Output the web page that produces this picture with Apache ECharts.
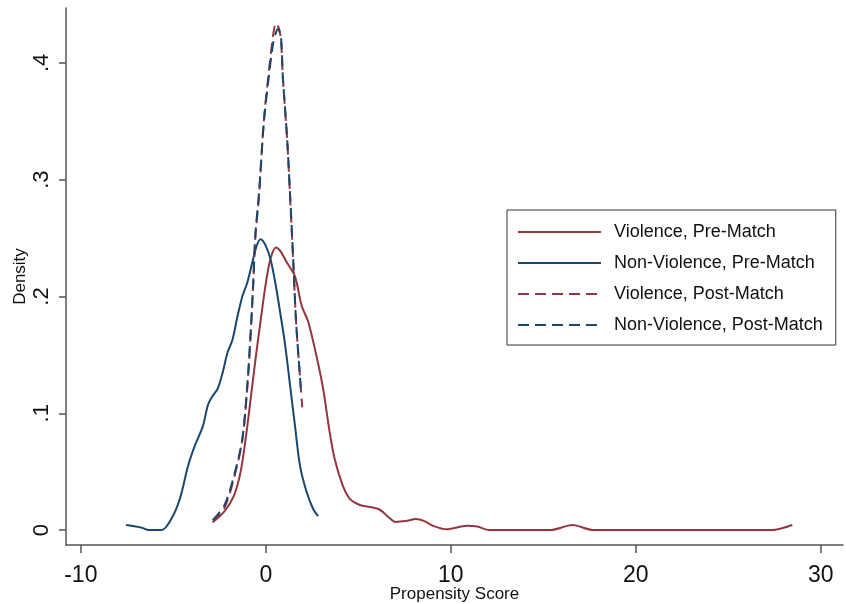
<!DOCTYPE html>
<html lang="en">
<head>
    <meta charset="UTF-8">
    <title>Propensity Score Density</title>
    <style>
        * {
            padding: 0;
            margin: 0;
        }

        #chart {
            width: 846px;
            height: 604px;
            background: #fff;
        }
    </style>
    <script src="https://cdn.jsdelivr.net/npm/echarts@6.0.0/dist/echarts.min.js"></script>
</head>
<body>
<div id="chart"></div>
<script>
    // [propensity score, density]
    const violencePre = [
        [-2.87, 0.0066], [-2.24, 0.016], [-1.71, 0.030], [-1.36, 0.050], [-1.09, 0.078],
        [-0.82, 0.112], [-0.56, 0.146], [-0.29, 0.178], [-0.02, 0.209], [0.25, 0.232],
        [0.55, 0.242], [0.78, 0.239], [1.14, 0.229], [1.58, 0.217], [1.94, 0.192],
        [2.3, 0.178], [2.74, 0.149], [3.1, 0.121], [3.45, 0.084], [3.72, 0.061],
        [4.16, 0.038], [4.52, 0.027], [4.87, 0.023], [5.17, 0.021], [6.09, 0.018],
        [6.64, 0.011], [7.01, 0.007], [7.56, 0.0077], [8.11, 0.0094], [8.57, 0.0077],
        [9.03, 0.0037], [9.77, 0.0006], [10.88, 0.0037], [11.43, 0.003], [12.07, 0],
        [15.39, 0], [16.58, 0.0043], [17.69, 0], [27.35, 0], [28.46, 0.0043]
    ];
    const nonViolencePre = [
        [-7.55, 0.0043], [-6.69, 0.002], [-6.34, 0], [-5.63, 0], [-5.09, 0.010],
        [-4.64, 0.027], [-4.2, 0.055], [-3.84, 0.072], [-3.4, 0.089], [-3.13, 0.107],
        [-2.87, 0.115], [-2.6, 0.121], [-2.33, 0.135], [-2.07, 0.152], [-1.8, 0.163],
        [-1.53, 0.183], [-1.27, 0.200], [-1.0, 0.212], [-0.73, 0.229], [-0.5, 0.243],
        [-0.29, 0.249], [-0.02, 0.244], [0.25, 0.232], [0.51, 0.212], [0.78, 0.186],
        [1.05, 0.158], [1.31, 0.124], [1.58, 0.089], [1.85, 0.055], [2.2, 0.033],
        [2.56, 0.018], [2.83, 0.012]
    ];
    const violencePost = [
        [-2.87, 0.007], [-2.24, 0.019], [-1.71, 0.045], [-1.27, 0.077], [-1.0, 0.122],
        [-0.82, 0.167], [-0.68, 0.210], [-0.56, 0.252], [-0.37, 0.285], [-0.11, 0.350],
        [0.16, 0.392], [0.39, 0.423], [0.55, 0.434], [0.70, 0.430], [0.82, 0.420],
        [0.92, 0.388], [1.05, 0.358], [1.17, 0.330], [1.31, 0.286], [1.49, 0.227],
        [1.63, 0.180], [1.76, 0.150], [1.97, 0.105]
    ];
    const nonViolencePost = [
        [-2.87, 0.0085], [-2.24, 0.021], [-1.71, 0.047], [-1.27, 0.078], [-1.0, 0.124],
        [-0.82, 0.169], [-0.68, 0.212], [-0.56, 0.254], [-0.37, 0.288], [-0.11, 0.348],
        [0.16, 0.388], [0.39, 0.416], [0.57, 0.427], [0.66, 0.429], [0.82, 0.422],
        [0.92, 0.388], [1.05, 0.359], [1.17, 0.331], [1.31, 0.288], [1.49, 0.229],
        [1.63, 0.180], [1.76, 0.150], [1.90, 0.120]
    ];
    const xTicks = [-10, 0, 10, 20, 30];
    const yTicks = [0, 0.1, 0.2, 0.3, 0.4];

    const red = '#93363d';
    const navy = '#1a476f';
    const axisColor = '#555';
    const font = 'Liberation Sans, Arial, sans-serif';

    function line(name, data, color, dashed) {
        return {
            name: name,
            type: 'line',
            data: data,
            smooth: 0.3,
            symbol: 'none',
            lineStyle: {
                color: color,
                width: 2,
                type: dashed ? [11, 6] : 'solid'
            },
            itemStyle: {color: color},
            animation: false
        };
    }

    const chart = echarts.init(document.getElementById('chart'));
    chart.setOption({
        backgroundColor: '#fff',
        grid: {left: 66, right: 3, top: 8, bottom: 59, containLabel: false, outerBoundsMode: 'none'},
        legend: {
            orient: 'vertical',
            left: 507,
            top: 210,
            padding: [13, 13, 11, 10],
            itemWidth: 83,
            itemHeight: 14,
            itemGap: 13,
            borderColor: '#333',
            borderWidth: 1,
            itemStyle: {opacity: 0},
            textStyle: {fontFamily: font, fontSize: 18, lineHeight: 17, color: '#111', padding: [0, 0, 0, 8]},
            data: ['Violence, Pre-Match', 'Non-Violence, Pre-Match',
                'Violence, Post-Match', 'Non-Violence, Post-Match']
        },
        xAxis: {
            type: 'value',
            min: -10.8,
            max: 31.2,
            name: 'Propensity Score',
            nameLocation: 'middle',
            nameGap: 41,
            nameMoveOverlap: false,
            nameTextStyle: {fontFamily: font, fontSize: 17, color: '#111'},
            axisLine: {onZero: false, lineStyle: {color: axisColor, width: 1.5}},
            axisTick: {show: true, length: 8, customValues: xTicks, lineStyle: {color: axisColor, width: 1.5}},
            axisLabel: {customValues: xTicks, margin: 19, fontFamily: font, fontSize: 23, color: '#111'},
            splitLine: {show: false}
        },
        yAxis: {
            type: 'value',
            min: -0.0128,
            max: 0.447,
            name: 'Density',
            nameLocation: 'middle',
            nameGap: 37,
            nameMoveOverlap: false,
            nameTextStyle: {fontFamily: font, fontSize: 17, color: '#111'},
            axisLine: {show: true, onZero: false, lineStyle: {color: axisColor, width: 1.5}},
            axisTick: {show: true, length: 7, customValues: yTicks, lineStyle: {color: axisColor, width: 1.5}},
            axisLabel: {
                customValues: yTicks,
                rotate: 90,
                margin: 13,
                fontFamily: font,
                fontSize: 22,
                color: '#111',
                formatter: v => v === 0 ? '0' : String(+v.toFixed(1)).replace('0.', '.')
            },
            splitLine: {show: false}
        },
        series: [
            line('Violence, Pre-Match', violencePre, red, false),
            line('Non-Violence, Pre-Match', nonViolencePre, navy, false),
            line('Violence, Post-Match', violencePost, red, true),
            line('Non-Violence, Post-Match', nonViolencePost, navy, true)
        ]
    });
</script>
</body>
</html>
